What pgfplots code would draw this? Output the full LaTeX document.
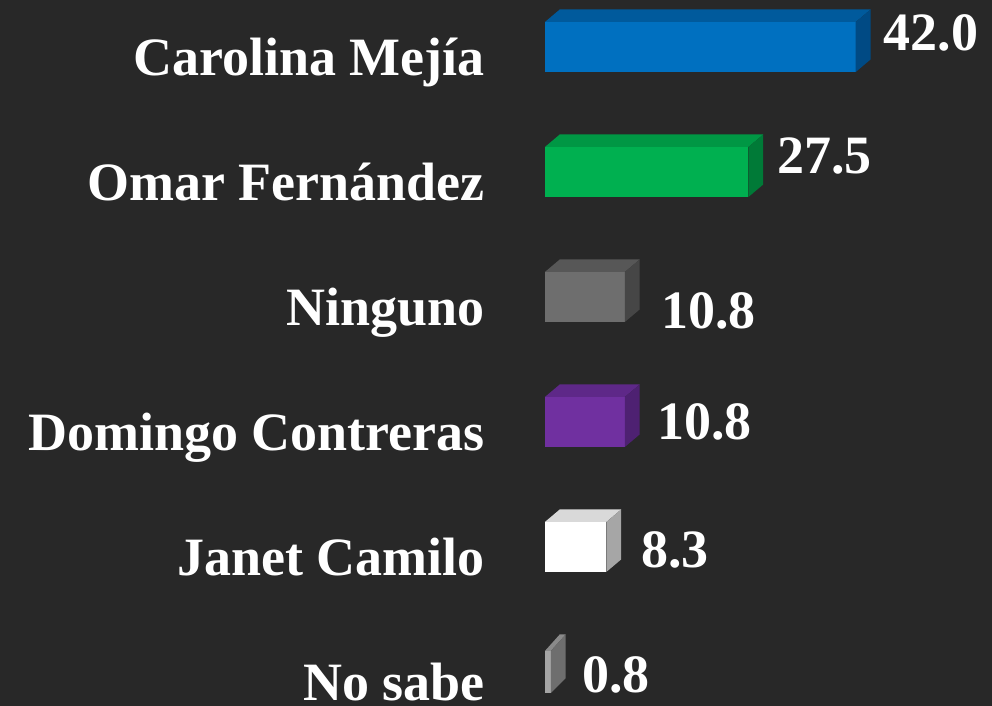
\documentclass[border=0pt]{standalone}
\usepackage{pgfplots}
\pgfplotsset{compat=1.18}
\usepackage{fontspec}
\setmainfont{Liberation Serif}
\definecolor{bgcol}{HTML}{282828}
\definecolor{bluefront}{HTML}{0070C0}
\definecolor{bluetop}{HTML}{005A9C}
\definecolor{blueside}{HTML}{004A84}
\definecolor{greenfront}{HTML}{00B050}
\definecolor{greentop}{HTML}{009744}
\definecolor{greenside}{HTML}{007A37}
\definecolor{greyfront}{HTML}{6E6E6E}
\definecolor{greytop}{HTML}{575757}
\definecolor{greyside}{HTML}{464646}
\definecolor{purplefront}{HTML}{7030A0}
\definecolor{purpletop}{HTML}{5E2888}
\definecolor{purpleside}{HTML}{4E2172}
\definecolor{whitefront}{HTML}{FFFFFF}
\definecolor{whitetop}{HTML}{D9D9D9}
\definecolor{whiteside}{HTML}{A6A6A6}
\definecolor{nsfront}{HTML}{A5A5A5}
\definecolor{nstop}{HTML}{8A8A8A}
\definecolor{nsside}{HTML}{6E6E6E}
\begin{document}
\begin{tikzpicture}
\fill[bgcol] (0,0) rectangle (992pt,706pt);
\begin{axis}[
  at={(545pt,0pt)}, anchor=south west,
  scale only axis, width=447pt, height=706pt,
  xmin=0, xmax=60.4, ymin=-0.272, ymax=5.376,
  enlargelimits=false, clip=false,
  axis line style={draw=none}, major tick length=0pt,
  xtick=\empty,
  ytick={0,1,2,3,4,5},
  yticklabels={No sabe, Janet Camilo, Domingo Contreras, Ninguno, Omar Fernández, Carolina Mejía},
  yticklabel style={font=\fontsize{54}{60}\selectfont\bfseries, text=white, inner sep=0pt, anchor=base east, yshift=-28.5pt, xshift=-60pt},
  nodes near coords style={font=\fontsize{54}{60}\selectfont\bfseries, text=white, inner sep=0pt, anchor=west},
  point meta=explicit symbolic,
]
% Carolina Mejia
\addplot[xbar, bar shift=0pt, bar width=50pt, fill=bluefront, draw=none,
  nodes near coords, nodes near coords style={xshift=28pt, yshift=14.5pt}] coordinates {(42.0,5) [42.0]};
\addplot[fill=bluetop, draw=none] coordinates {(0,5.2) (2,5.3) (44,5.3) (42,5.2)} -- cycle;
\addplot[fill=blueside, draw=none] coordinates {(42,4.8) (44,4.9) (44,5.3) (42,5.2)} -- cycle;
% Omar Fernandez
\addplot[xbar, bar shift=0pt, bar width=50pt, fill=greenfront, draw=none,
  nodes near coords, nodes near coords style={xshift=28.5pt, yshift=15.5pt}] coordinates {(27.5,4) [27.5]};
\addplot[fill=greentop, draw=none] coordinates {(0,4.2) (2,4.3) (29.5,4.3) (27.5,4.2)} -- cycle;
\addplot[fill=greenside, draw=none] coordinates {(27.5,3.8) (29.5,3.9) (29.5,4.3) (27.5,4.2)} -- cycle;
% Ninguno
\addplot[xbar, bar shift=0pt, bar width=50pt, fill=greyfront, draw=none,
  nodes near coords, nodes near coords style={xshift=36pt, yshift=-14pt}] coordinates {(10.8,3) [10.8]};
\addplot[fill=greytop, draw=none] coordinates {(0,3.2) (2,3.3) (12.8,3.3) (10.8,3.2)} -- cycle;
\addplot[fill=greyside, draw=none] coordinates {(10.8,2.8) (12.8,2.9) (12.8,3.3) (10.8,3.2)} -- cycle;
% Domingo Contreras
\addplot[xbar, bar shift=0pt, bar width=50pt, fill=purplefront, draw=none,
  nodes near coords, nodes near coords style={xshift=32pt, yshift=0pt}] coordinates {(10.8,2) [10.8]};
\addplot[fill=purpletop, draw=none] coordinates {(0,2.2) (2,2.3) (12.8,2.3) (10.8,2.2)} -- cycle;
\addplot[fill=purpleside, draw=none] coordinates {(10.8,1.8) (12.8,1.9) (12.8,2.3) (10.8,2.2)} -- cycle;
% Janet Camilo
\addplot[xbar, bar shift=0pt, bar width=50pt, fill=whitefront, draw=none,
  nodes near coords, nodes near coords style={xshift=34.5pt, yshift=-3pt}] coordinates {(8.3,1) [8.3]};
\addplot[fill=whitetop, draw=none] coordinates {(0,1.2) (2,1.3) (10.3,1.3) (8.3,1.2)} -- cycle;
\addplot[fill=whiteside, draw=none] coordinates {(8.3,0.8) (10.3,0.9) (10.3,1.3) (8.3,1.2)} -- cycle;
% No sabe
\addplot[xbar, bar shift=0pt, bar width=42pt, fill=nsfront, draw=none,
  nodes near coords, nodes near coords style={xshift=31pt, yshift=-3pt}] coordinates {(0.8,0) [0.8]};
\addplot[fill=nstop, draw=none] coordinates {(0,0.168) (2,0.3) (2.8,0.3) (0.8,0.168)} -- cycle;
\addplot[fill=nsside, draw=none] coordinates {(0.8,-0.168) (2.8,-0.05) (2.8,0.3) (0.8,0.168)} -- cycle;
\end{axis}
\end{tikzpicture}
\end{document}
